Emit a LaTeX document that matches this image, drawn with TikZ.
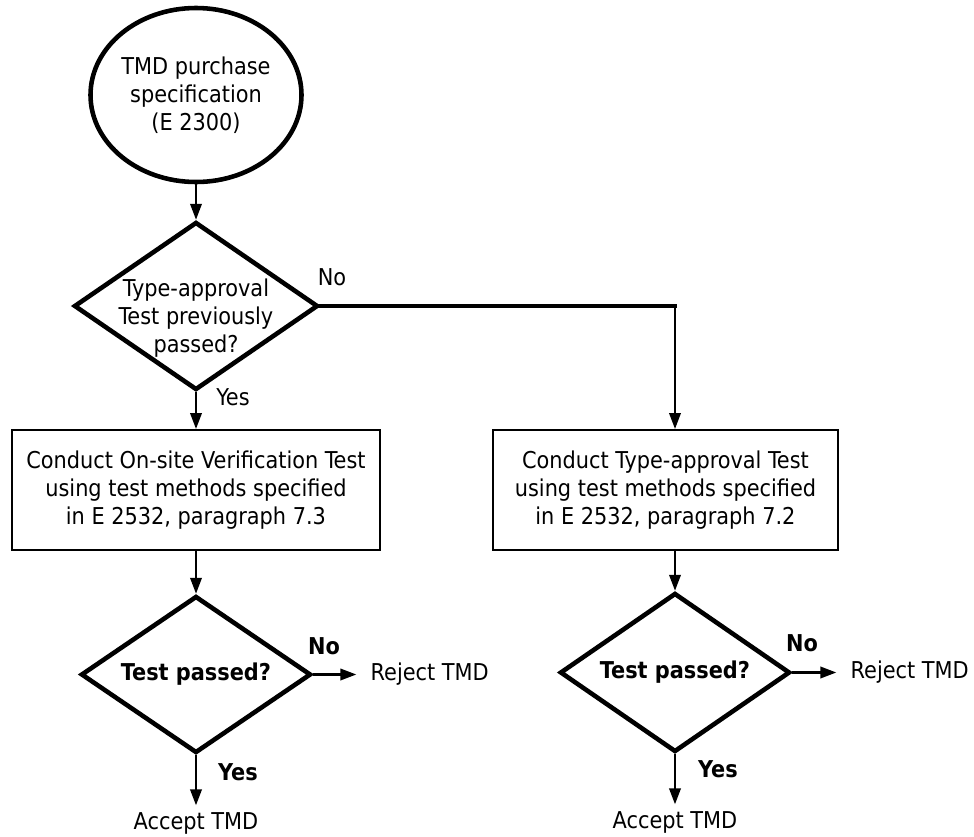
\documentclass[tikz,border=0pt]{standalone}
\usepackage{fontspec}
\setmainfont{DejaVu Sans Condensed}
\usepackage{tikz}
\usetikzlibrary{arrows.meta,positioning,shapes.geometric}
\newcommand\flsize{\fontsize{13.2}{15.9}\selectfont}
\tikzset{
  term/.style={ellipse,draw,line width=2.6pt,minimum width=3.76cm,minimum height=3.48cm,inner sep=0pt,align=center},
  dec/.style={diamond,draw,line width=2.6pt,inner sep=0pt},
  proc/.style={draw,line width=1.2pt,minimum height=2.4cm,inner sep=0pt,align=center},
  arr/.style={line width=1.2pt,-{Triangle[length=9pt,width=6.5pt]}},
  res/.style={inner xsep=8pt,inner ysep=4pt},
  lab/.style={inner sep=0pt},
  blab/.style={inner sep=0pt,font=\flsize\bfseries},
}

\begin{document}
\begin{tikzpicture}[font=\flsize]
  \useasboundingbox (0,0) rectangle (19.48,-16.74);
  % start and first question
  \node[term] (spec) at (3.92,-1.90) {TMD purchase\\specification\\(E 2300)};
  \node[dec,minimum width=4.88cm,minimum height=3.36cm] (tap) at (3.92,-6.12) {};
  \node[align=center] (taptxt) at (3.92,-6.36) {Type-approval\\Test previously\\passed?};
  % the two tests
  \node[proc,minimum width=7.36cm] (onsite) at (3.92,-9.80)
    {Conduct On-site Verification Test\\using test methods specified\\in E 2532, paragraph 7.3};
  \node[proc,minimum width=6.90cm] (typet) at (13.31,-9.80)
    {Conduct Type-approval Test\\using test methods specified\\in E 2532, paragraph 7.2};
  \coordinate (knee) at (13.50,-6.12);
  % results
  \node[dec,minimum width=4.60cm,minimum height=3.14cm] (passa) at (3.92,-13.49) {};
  \node[font=\flsize\bfseries] (passatxt) at (passa) {Test passed?};
  \node[dec,minimum width=4.60cm,minimum height=3.18cm] (passb) at (13.50,-13.45) {};
  \node[font=\flsize\bfseries] (passbtxt) at (passb) {Test passed?};
  \node[res,right=0.86cm of passa] (rejecta) {Reject TMD};
  \node[res,below=1.0cm of passa] (accepta) {Accept TMD};
  \node[res,right=0.88cm of passb] (rejectb) {Reject TMD};
  \node[res,below=1.0cm of passb] (acceptb) {Accept TMD};

  \draw[arr] (spec) -- (tap);
  \draw[arr] (tap) -- (onsite);
  \draw[line width=2.6pt,line cap=rect] (tap.east) -- (knee);
  \draw[arr] (knee) -- (knee |- typet.north);
  \draw[arr] (onsite) -- (passa);
  \draw[arr] (passb |- typet.south) -- (passb);
  \draw[arr] (passa) -- (rejecta);
  \draw[arr] (passa) -- (accepta);
  \draw[arr] (passb) -- (rejectb);
  \draw[arr] (passb) -- (acceptb);

  \node[lab] (tapno) at (6.64,-5.54) {No};
  \node[lab] (tapyes) at (4.66,-7.94) {Yes};
  \node[blab] (passano) at (6.48,-12.92) {No};
  \node[blab] (passayes) at (4.76,-15.44) {Yes};
  \node[blab] (passbno) at (16.04,-12.86) {No};
  \node[blab] (passbyes) at (14.36,-15.38) {Yes};
\end{tikzpicture}
\end{document}
